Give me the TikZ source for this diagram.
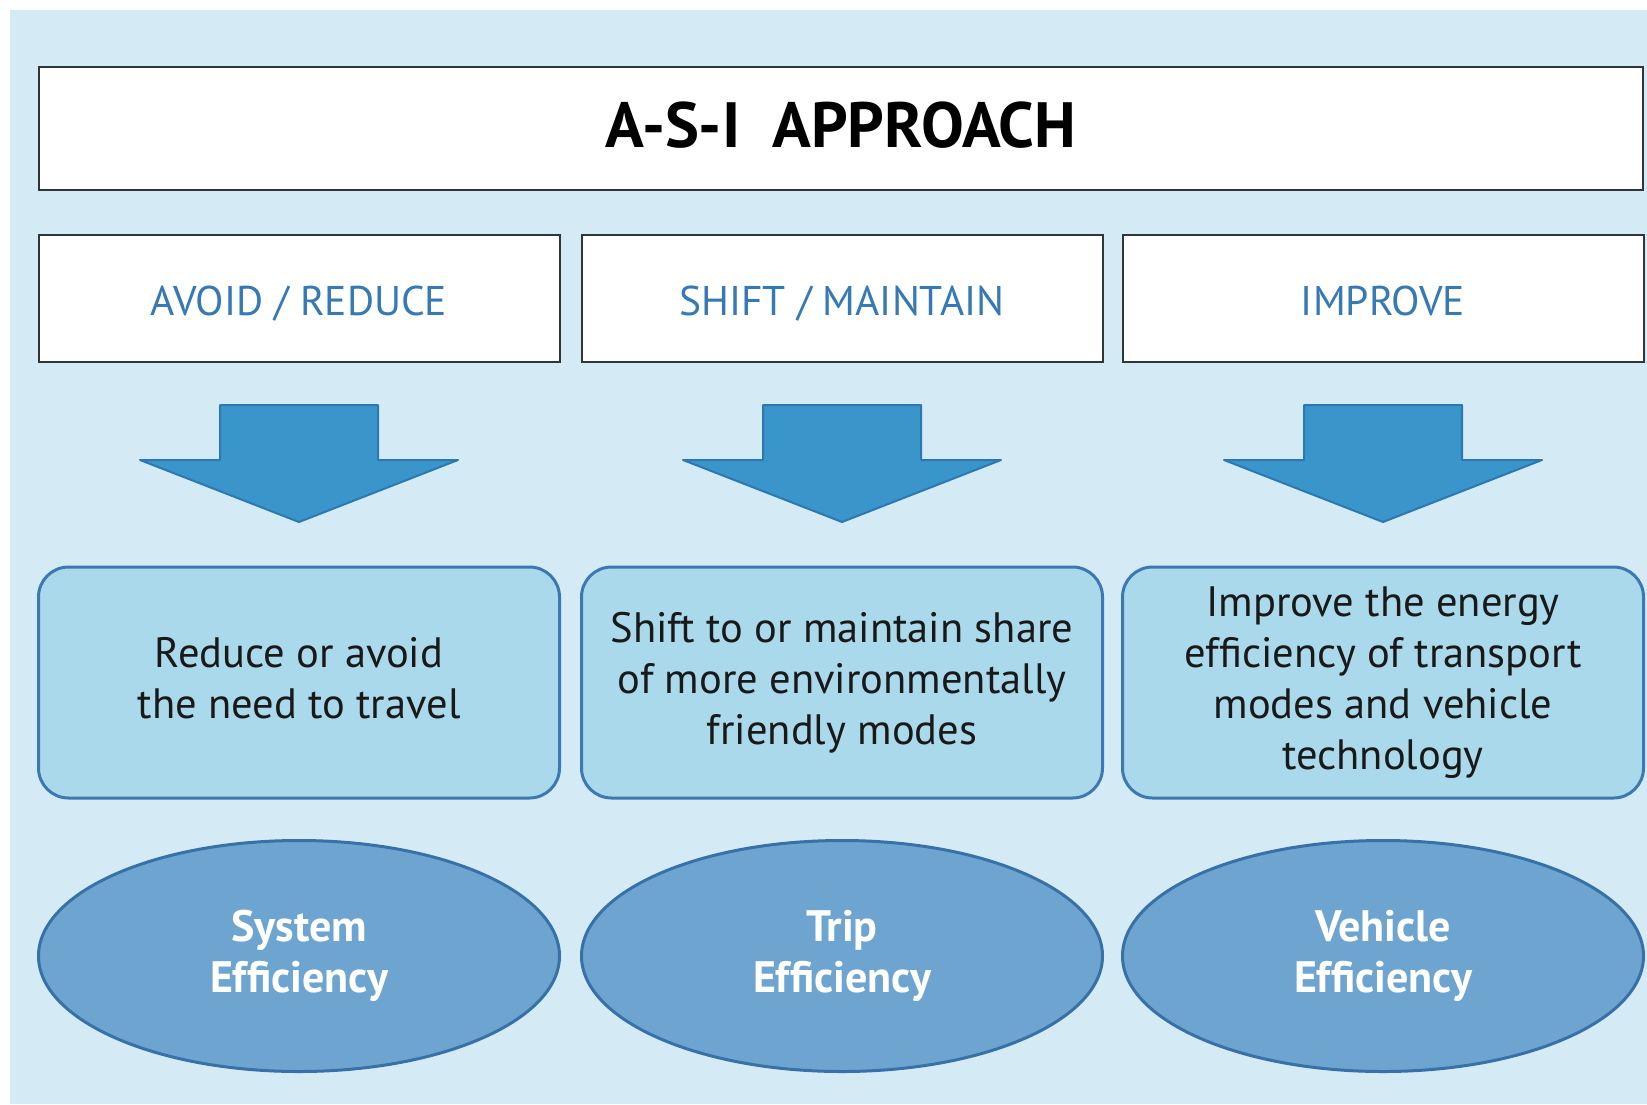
\documentclass[tikz,border=0pt]{standalone}
\usepackage{fontspec}
\setmainfont{PT Sans}
\usetikzlibrary{shapes.geometric}
\definecolor{bgblue}{HTML}{D4EBF5}
\definecolor{hdrtext}{HTML}{3579B5}
\definecolor{arrfill}{HTML}{3A95CB}
\definecolor{arrdraw}{HTML}{2C78B2}
\definecolor{boxfill}{HTML}{A9D9EA}
\definecolor{boxdraw}{HTML}{3C79B4}
\definecolor{ellfill}{HTML}{6EA5D0}
\definecolor{elldraw}{HTML}{3870A8}
\definecolor{framegray}{HTML}{303538}
\begin{document}
\begin{tikzpicture}[x=1pt,y=-1pt,
  titlebox/.style={draw=framegray,line width=2.5pt,fill=white,minimum width=1604pt,minimum height=123pt,inner sep=0pt,
    text height=37pt,text depth=0pt,
    font=\fontsize{64}{70}\selectfont\bfseries,text=black},
  hdrbox/.style={draw=framegray,line width=2pt,fill=white,minimum width=521pt,minimum height=127pt,inner sep=0pt,
    text height=33pt,text depth=0pt,
    font=\fontsize{41.5}{45}\selectfont,text=hdrtext},
  descbox/.style={draw=boxdraw,line width=3pt,fill=boxfill,rounded corners=30pt,minimum width=521pt,minimum height=231pt,
    inner sep=0pt,align=center,font=\fontsize{42.5}{51}\selectfont,text=black!90},
  effell/.style={ellipse,draw=elldraw,line width=3pt,fill=ellfill,minimum width=521pt,minimum height=231pt,inner sep=0pt,
    align=center,font=\fontsize{44}{51}\selectfont\bfseries,text=white},
  downarrow/.style={fill=arrfill,draw=arrdraw,line width=2pt,line join=round}
]
\useasboundingbox (0,0) rectangle (1647,1104);
\fill[white] (0,0) rectangle (1647,1104);
\fill[bgblue] (10,10) rectangle (1647,1104);

\node[titlebox] (title) at (841,128.5) {A-S-I\ \ APPROACH};

\node[hdrbox] (h1) at (299,298.5) {AVOID / REDUCE};
\node[hdrbox] (h2) at (842,298.5) {SHIFT / MAINTAIN};
\node[hdrbox] (h3) at (1383,298.5) {IMPROVE};

\foreach \cx in {299,842,1383}{
  \draw[downarrow] (\cx-79,405) -- (\cx+79,405) -- (\cx+79,460) -- (\cx+159,460) -- (\cx,522)
    -- (\cx-159,460) -- (\cx-79,460) -- cycle;
}

\node[descbox] (d1) at (299,682.5) {\raisebox{5pt}{\begin{tabular}{@{}c@{}}Reduce or avoid\\the need to travel\end{tabular}}};
\node[descbox] (d2) at (842,682.5) {Shift to or maintain share\\of more environmentally\\friendly modes};
\node[descbox] (d3) at (1383,682.5) {Improve the energy\\efficiency of transport\\modes and vehicle\\technology};

\node[effell] (e1) at (299,956) {System\\Efficiency};
\node[effell] (e2) at (842,956) {Trip\\Efficiency};
\node[effell] (e3) at (1383,956) {Vehicle\\Efficiency};
\end{tikzpicture}
\end{document}
